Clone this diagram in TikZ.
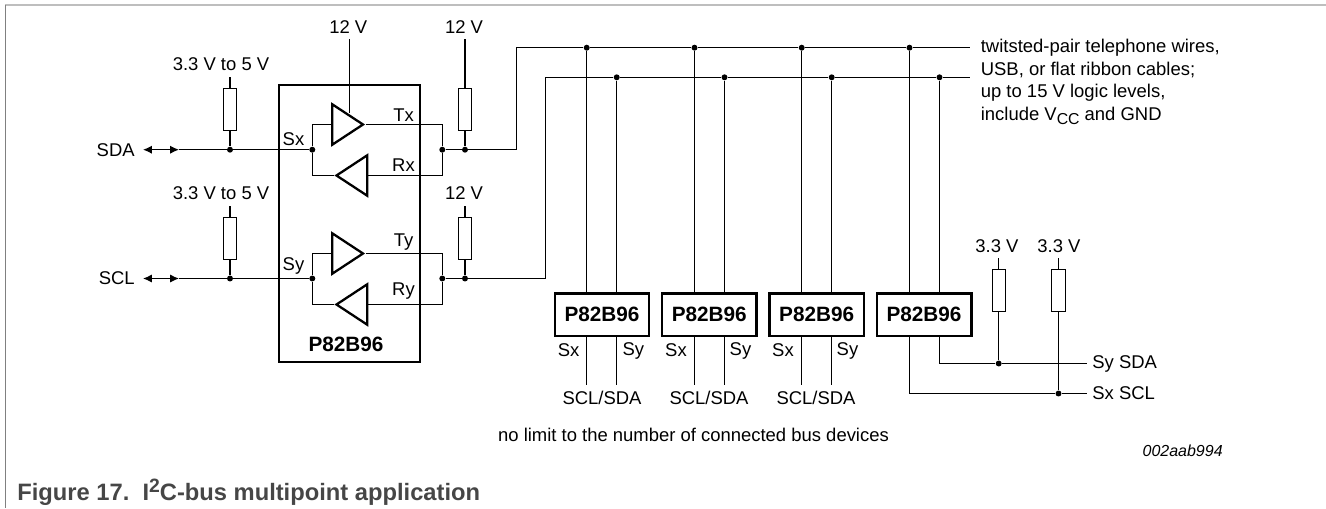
\documentclass[tikz,border=0pt]{standalone}
\usepackage{fontspec}
\setmainfont{Liberation Sans}
\usetikzlibrary{positioning,shapes.geometric,arrows.meta}
\definecolor{FrameGray}{RGB}{190,190,190}
\definecolor{CaptionGray}{RGB}{70,70,70}
\tikzset{>={Latex[length=5pt,width=4.6pt]}}
\tikzset{
    wire/.style={line width=.7pt},
    res/.style={draw,line width=.6pt,minimum width=7.5pt,minimum height=24.2pt,inner sep=0pt,fill=white},
    ic/.style={draw,line width=1.4pt,inner sep=0pt,fill=white},
    buf/.style={draw,line width=1.3pt,isosceles triangle,isosceles triangle stretches,inner sep=0pt,minimum width=23pt,minimum height=17.5pt},
    dot/.style={circle,fill=black,inner sep=0pt,minimum size=3.4pt},
    lab/.style={inner sep=0pt,font=\fontsize{10.5}{12.6}\selectfont},
    blab/.style={inner sep=0pt,font=\fontsize{11.8}{14}\selectfont\bfseries}
}

\begin{document}
\begin{tikzpicture}[x=0.02cm,y=-0.02cm]
        \useasboundingbox (0,0) rectangle (1326,508);
        % page frame
        \draw[FrameGray,line width=.9pt] (5,5) -- (1326,5);
        \draw[gray,line width=.7pt] (5.5,5) -- (5.5,508);
        % main device
        \node[ic,minimum width=80.3pt,minimum height=157.6pt] at (349.5,223.5) (U) {};
        \node[buf,shape border rotate=0,anchor=apex] at (366,124.5) (TxB) {};
        \node[buf,shape border rotate=180,anchor=apex] at (333.5,175.5) (RxB) {};
        \node[buf,shape border rotate=0,anchor=apex] at (366,253.5) (TyB) {};
        \node[buf,shape border rotate=180,anchor=apex] at (333.5,304.5) (RyB) {};
        \node[blab] at (346,344) (Uname) {P82B96};
        \node[lab] at (293.5,139) (Sx) {Sx};
        \node[lab] at (403.5,115) (Tx) {Tx};
        \node[lab] at (403.5,165.5) (Rx) {Rx};
        \node[lab] at (293.5,266) (Sy) {Sy};
        \node[lab] at (403.5,242) (Ty) {Ty};
        \node[lab] at (403.5,291.5) (Ry) {Ry};
        % junctions
        \node[dot] at (230,149.7) (J1) {};
        \node[dot] at (312.3,149.7) (J2) {};
        \node[dot] at (442.3,149.7) (J3) {};
        \node[dot] at (465,149.7) (J4) {};
        \node[dot] at (230,278.5) (J5) {};
        \node[dot] at (312.3,278.5) (J6) {};
        \node[dot] at (442.3,278.5) (J7) {};
        \node[dot] at (465,278.5) (J8) {};
        % pull-ups
        \node[res] at (230,109.3) (R1) {};
        \node[res] at (465,109.3) (R2) {};
        \node[res] at (230,238.6) (R3) {};
        \node[res] at (465,238.6) (R4) {};
        \node[res] at (998.7,290.5) (R5) {};
        \node[res] at (1058.5,290.5) (R6) {};
        \coordinate (V1) at (230,77);
        \coordinate (V2) at (465,39.3);
        \coordinate (V3) at (230,206);
        \coordinate (V4) at (465,206);
        \coordinate (V5) at (998.7,258.3);
        \coordinate (V6) at (1058.5,258.3);
        \coordinate (V7) at (349.3,39.3);
        \node[lab] at (221,64) (L1) {3.3 V to 5 V};
        \node[lab] at (221,193) (L2) {3.3 V to 5 V};
        \node[lab] at (348.3,26.7) (L3) {12 V};
        \node[lab] at (464,26.7) (L4) {12 V};
        \node[lab] at (464,193) (L5) {12 V};
        \node[lab] at (997,245.7) (L6) {3.3 V};
        \node[lab] at (1059,245.7) (L7) {3.3 V};
        % bus side
        \node[lab,anchor=east] at (135,149.7) (SDA) {SDA};
        \node[lab,anchor=east] at (135,278.5) (SCL) {SCL};
        \coordinate (AL1) at (143,149.7);
        \coordinate (AR1) at (179,149.7);
        \coordinate (AL2) at (143,278.5);
        \coordinate (AR2) at (179,278.5);
        \draw[wire,<->] (AL1) -- (AR1);
        \draw[wire,<->] (AL2) -- (AR2);
        \draw[wire] (AR1) -- (J1) -- (J2);
        \draw[wire] (AR2) -- (J5) -- (J6);
        \draw[wire] (V1) -- (R1) -- (J1);
        \draw[wire] (V3) -- (R3) -- (J5);
        \draw[wire] (V2) -- (R2) -- (J4);
        \draw[wire] (V4) -- (R4) -- (J8);
        \draw[wire] (V5) -- (R5);
        \draw[wire] (V6) -- (R6);
        \draw[wire] (V7) -- (V7 |- TxB.left side);
        % buffer loops
        \draw[wire] (TxB.lower side) -| (J2) |- (RxB.apex);
        \draw[wire] (TxB.apex) -| (J3) |- (RxB.lower side);
        \draw[wire] (TyB.lower side) -| (J6) |- (RyB.apex);
        \draw[wire] (TyB.apex) -| (J7) |- (RyB.lower side);
        \draw[wire] (J3) -- (J4);
        \draw[wire] (J7) -- (J8);
        % long bus pair
        \coordinate (BusA) at (970,47.7);
        \coordinate (BusB) at (970,77.3);
        \node[dot] at (586.7,47.7) (A1) {};
        \node[dot] at (694.5,47.7) (A2) {};
        \node[dot] at (801.7,47.7) (A3) {};
        \node[dot] at (909.5,47.7) (A4) {};
        \node[dot] at (616.7,77.3) (B1) {};
        \node[dot] at (724.5,77.3) (B2) {};
        \node[dot] at (831.7,77.3) (B3) {};
        \node[dot] at (939.5,77.3) (B4) {};
        \coordinate (KneeA) at (516.5,47.7);
        \coordinate (KneeB) at (545.7,77.3);
        \draw[wire] (J4) -| (KneeA) -- (A1) -- (A2) -- (A3) -- (A4) -- (BusA);
        \draw[wire] (J8) -| (KneeB) -- (B1) -- (B2) -- (B3) -- (B4) -- (BusB);
        \node[lab,anchor=north west,align=left,font=\fontsize{10.5}{13}\selectfont] at (980.5,38.5) (Note) {twitsted-pair telephone wires,\\USB, or flat ribbon cables;\\up to 15 V logic levels,\\include V\raisebox{-2pt}{\fontsize{9}{12}\selectfont CC} and GND};
        % small devices
        \node[ic,blab,draw,line width=1.4pt,minimum width=53.8pt,minimum height=24.2pt] at (602,314.7) (D1) {P82B96};
        \node[ic,blab,draw,line width=1.4pt,minimum width=53.8pt,minimum height=24.2pt] at (709.3,314.7) (D2) {P82B96};
        \node[ic,blab,draw,line width=1.4pt,minimum width=53.8pt,minimum height=24.2pt] at (816.7,314.7) (D3) {P82B96};
        \node[ic,blab,draw,line width=1.4pt,minimum width=53.8pt,minimum height=24.2pt] at (924,314.7) (D4) {P82B96};
        \draw[wire] (A1) -- (A1 |- D1.north);
        \draw[wire] (B1) -- (B1 |- D1.north);
        \draw[wire] (A2) -- (A2 |- D2.north);
        \draw[wire] (B2) -- (B2 |- D2.north);
        \draw[wire] (A3) -- (A3 |- D3.north);
        \draw[wire] (B3) -- (B3 |- D3.north);
        \draw[wire] (A4) -- (A4 |- D4.north);
        \draw[wire] (B4) -- (B4 |- D4.north);
        \coordinate (E1) at (586.7,385);
        \coordinate (F1) at (616.7,385);
        \coordinate (E2) at (694.5,385);
        \coordinate (F2) at (724.5,385);
        \coordinate (E3) at (801.7,385);
        \coordinate (F3) at (831.7,385);
        \draw[wire] (E1 |- D1.south) -- (E1);
        \draw[wire] (F1 |- D1.south) -- (F1);
        \draw[wire] (E2 |- D2.south) -- (E2);
        \draw[wire] (F2 |- D2.south) -- (F2);
        \draw[wire] (E3 |- D3.south) -- (E3);
        \draw[wire] (F3 |- D3.south) -- (F3);
        \node[lab] at (568.7,350) (Sx1) {Sx};
        \node[lab] at (633.3,351) (Sy1) {Sy};
        \node[lab] at (676,350) (Sx2) {Sx};
        \node[lab] at (740.5,351) (Sy2) {Sy};
        \node[lab] at (783,350) (Sx3) {Sx};
        \node[lab] at (847.5,351) (Sy3) {Sy};
        \node[lab] at (602,398.3) (C1) {SCL/SDA};
        \node[lab] at (709,398.3) (C2) {SCL/SDA};
        \node[lab] at (816,398.3) (C3) {SCL/SDA};
        % last device outputs
        \node[dot] at (998.7,363.5) (K1) {};
        \node[dot] at (1058.5,393.5) (K2) {};
        \node[lab,anchor=west] at (1092,363.5) (SySDA) {Sy SDA};
        \node[lab,anchor=west] at (1092,393.5) (SxSCL) {Sx SCL};
        \coordinate (T1) at (1087,363.5);
        \coordinate (T2) at (1087,393.5);
        \draw[wire] (B4 |- D4.south) |- (K1) -- (T1);
        \draw[wire] (A4 |- D4.south) |- (K2) -- (T2);
        \draw[wire] (R5) -- (K1);
        \draw[wire] (R6) -- (K2);
        % notes
        \node[lab] at (693.5,435) (Limit) {no limit to the number of connected bus devices};
        \node[lab,anchor=west,font=\fontsize{9.1}{11}\selectfont\itshape] at (1142.3,451) (Code) {002aab994};
        \node[anchor=base west,inner sep=0pt,text=CaptionGray,font=\fontsize{13.5}{16}\selectfont\bfseries] at (17,500) (Caption) {Figure 17.\ \ I\raisebox{4.2pt}{\fontsize{11}{12}\selectfont 2}C-bus multipoint application};
    \end{tikzpicture}
\end{document}
